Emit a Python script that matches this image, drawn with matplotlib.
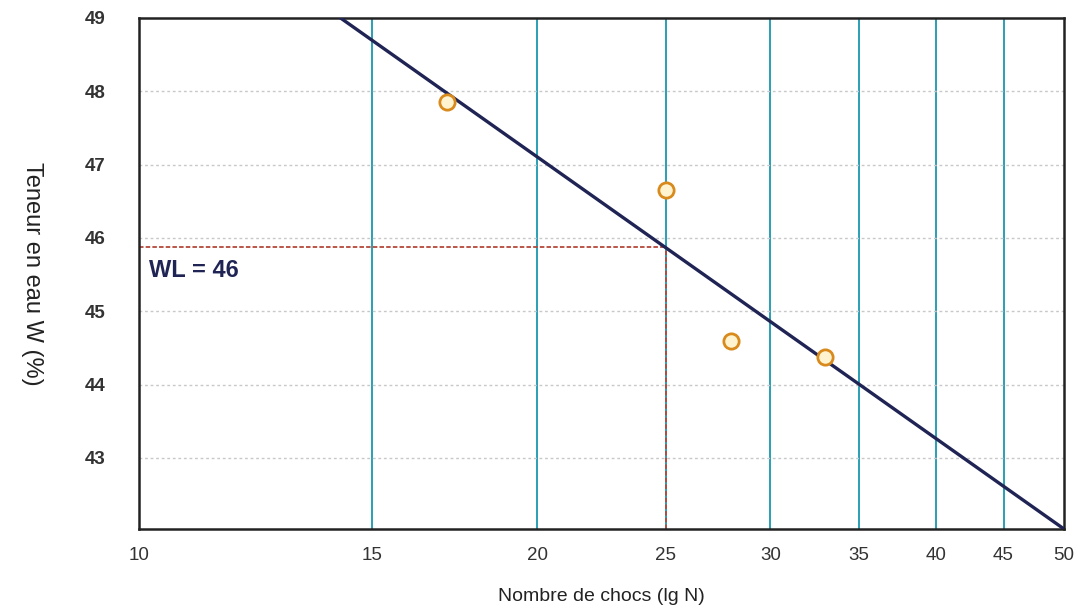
import matplotlib
matplotlib.use('Agg')
import matplotlib.pyplot as plt
from matplotlib.ticker import FixedLocator, NullLocator

plt.rcParams['font.family'] = ['Liberation Sans', 'DejaVu Sans']

# données
chocs = [17.1, 25.0, 28.0, 33.0]
teneur = [47.86, 46.66, 44.60, 44.38]
droite_x = [14.2, 50.0]
droite_y = [49.0, 42.03]
wl_n = 25
wl_w = 45.88
x_ticks = [10, 15, 20, 25, 30, 35, 40, 45, 50]
y_ticks = [43, 44, 45, 46, 47, 48, 49]


def main():
	fig = plt.figure(figsize=(10.85, 6.08), dpi=100)
	ax = fig.add_axes([0.1281, 0.1299, 0.8526, 0.8405])
	ax.set_xscale('log')
	ax.set_xlim(10, 50)
	ax.set_ylim(42.03, 49)

	# grille
	for xv in x_ticks[1:-1]:
		ax.axvline(xv, color='#2a9fb5', lw=1.4, zorder=1)
	for yv in y_ticks[:-1]:
		ax.axhline(yv, color='#c8c8c8', lw=1.0, ls=(0, (2, 2)), zorder=1)

	# lecture de WL
	ax.plot([10, wl_n], [wl_w, wl_w], color='#b5483a', lw=1.3, ls=(0, (2.5, 1.2)), zorder=2)
	ax.plot([wl_n, wl_n], [42.03, wl_w], color='#b5483a', lw=1.3, ls=(0, (2.5, 1.2)), zorder=2)

	ax.plot(droite_x, droite_y, color='#1f2454', lw=2.4, zorder=3)
	ax.plot(chocs, teneur, 'o', ms=11, mfc='#fff4cf', mec='#d98a1c', mew=2, zorder=4)

	ax.text(10.18, 45.55, 'WL = 46', color='#1f2454', fontsize=17, fontweight='bold', va='center')

	ax.xaxis.set_major_locator(FixedLocator(x_ticks))
	ax.xaxis.set_minor_locator(NullLocator())
	ax.set_xticklabels([str(v) for v in x_ticks])
	ax.set_yticks(y_ticks)
	ax.tick_params(axis='x', length=0, pad=13, labelsize=13.5, labelcolor='#333333')
	ax.tick_params(axis='y', length=0, pad=24, labelsize=13.5, labelcolor='#333333')
	for lab in ax.get_yticklabels():
		lab.set_fontweight('bold')

	for sp in ax.spines.values():
		sp.set_linewidth(1.8)
		sp.set_color('#222222')

	ax.set_xlabel('Nombre de chocs (lg N)', fontsize=14, color='#222222', labelpad=17)
	ax.set_ylabel('Teneur en eau W (%)', fontsize=17, color='#222222', rotation=270)
	ax.yaxis.set_label_coords(-0.128, 0.5)

	plt.savefig('out.png', dpi=100)


if __name__ == '__main__':
	main()
